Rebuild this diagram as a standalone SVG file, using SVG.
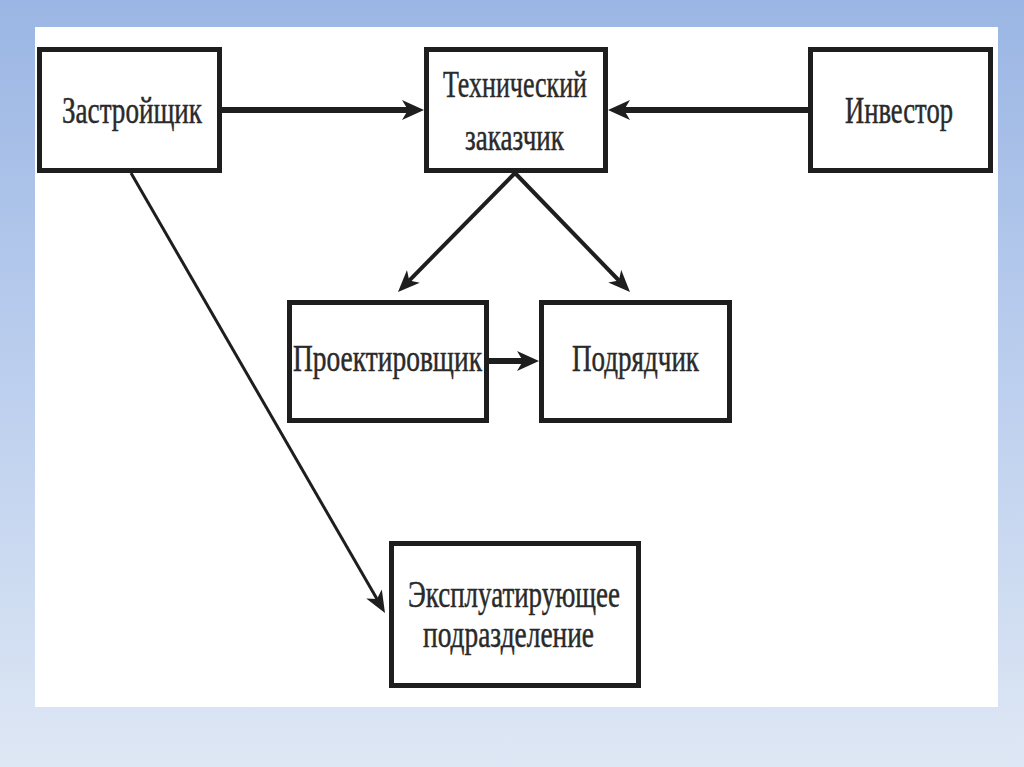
<svg xmlns="http://www.w3.org/2000/svg" width="1024" height="767" viewBox="0 0 1024 767">
  <defs>
    <linearGradient id="bg" x1="0" y1="0" x2="0" y2="1">
      <stop offset="0" stop-color="#9bb6e4"/>
      <stop offset="0.5" stop-color="#bccfee"/>
      <stop offset="1" stop-color="#dee7f4"/>
    </linearGradient>
    <marker id="headThick" markerUnits="userSpaceOnUse" markerWidth="24" markerHeight="22" refX="6" refY="10" orient="auto">
      <path d="M0,0 L22,10 L0,20 L6,10 Z" fill="#1e1e1e"/>
    </marker>
    <marker id="headThin" markerUnits="userSpaceOnUse" markerWidth="24" markerHeight="20" refX="6" refY="9" orient="auto">
      <path d="M0,0 L22,9 L0,18 L6,9 Z" fill="#1e1e1e"/>
    </marker>
  </defs>
  <style>
    .box { fill: #ffffff; stroke: #1e1e1e; stroke-width: 5; }
    .lbl { font-family: "Liberation Serif", "DejaVu Serif", serif; font-size: 38px; fill: #2a2a2a; stroke: #2a2a2a; stroke-width: 0.5; }
    .thick { stroke: #1e1e1e; stroke-width: 6; fill: none; marker-end: url(#headThick); }
    .thin { stroke: #1e1e1e; stroke-width: 4; fill: none; marker-end: url(#headThin); }
    .thinner { stroke: #1e1e1e; stroke-width: 3; fill: none; marker-end: url(#headThin); }
  </style>
  <rect x="0" y="0" width="1024" height="767" fill="url(#bg)"/>
  <rect x="35" y="27" width="963" height="680" fill="#ffffff"/>

  <g id="connectors">
    <line class="thick" x1="222" y1="110" x2="408" y2="110"/>
    <line class="thick" x1="808" y1="110" x2="624" y2="110"/>
    <line class="thick" x1="489" y1="361" x2="523" y2="361"/>
    <line class="thin" x1="515" y1="173" x2="409.2" y2="280.6"/>
    <line class="thin" x1="515" y1="173" x2="618.9" y2="280.5"/>
    <line class="thinner" x1="131" y1="173" x2="377" y2="599.1"/>
  </g>

  <g id="zastroyshchik">
    <rect class="box" x="39.5" y="49.5" width="180" height="121"/>
    <text class="lbl" x="62" y="123" textLength="140" lengthAdjust="spacingAndGlyphs">Застройщик</text>
  </g>
  <g id="tekhnicheskiy-zakazchik">
    <rect class="box" x="426.5" y="49.5" width="179" height="121"/>
    <text class="lbl" x="443" y="97" textLength="144" lengthAdjust="spacingAndGlyphs">Технический</text>
    <text class="lbl" x="465" y="150" textLength="99" lengthAdjust="spacingAndGlyphs">заказчик</text>
  </g>
  <g id="investor">
    <rect class="box" x="810.5" y="49.5" width="180" height="121"/>
    <text class="lbl" x="845" y="123" textLength="108" lengthAdjust="spacingAndGlyphs">Инвестор</text>
  </g>
  <g id="proektirovshchik">
    <rect class="box" x="289.5" y="302.5" width="197" height="118"/>
    <text class="lbl" x="293" y="371" textLength="189" lengthAdjust="spacingAndGlyphs">Проектировщик</text>
  </g>
  <g id="podryadchik">
    <rect class="box" x="541.5" y="302.5" width="188" height="118"/>
    <text class="lbl" x="572" y="371" textLength="127" lengthAdjust="spacingAndGlyphs">Подрядчик</text>
  </g>
  <g id="ekspluatiruyushchee">
    <rect class="box" x="391.5" y="543.5" width="247" height="142"/>
    <text class="lbl" x="408" y="607" textLength="212" lengthAdjust="spacingAndGlyphs">Эксплуатирующее</text>
    <text class="lbl" x="423" y="647" textLength="171" lengthAdjust="spacingAndGlyphs">подразделение</text>
  </g>
</svg>
